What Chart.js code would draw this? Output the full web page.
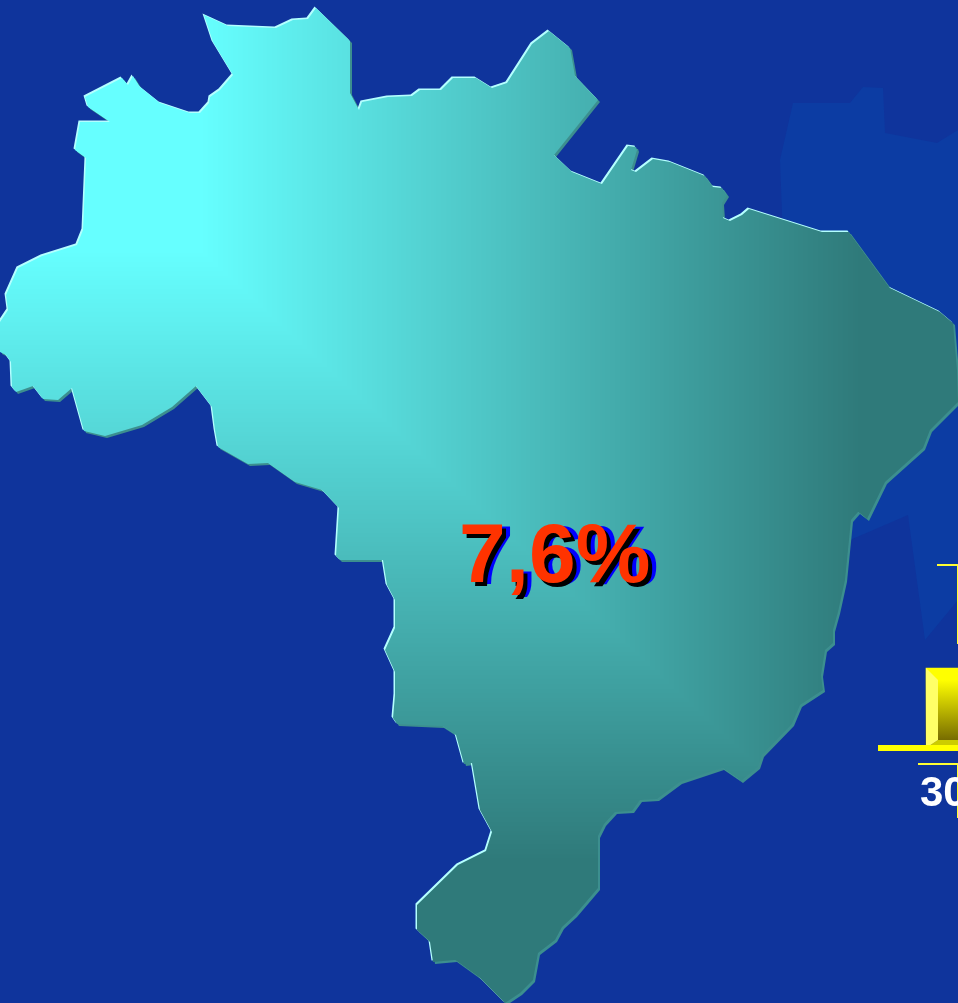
<!DOCTYPE html>
<html><head><meta charset="utf-8">
<style>html,body{margin:0;padding:0;background:#0F349C;overflow:hidden}canvas{display:block}</style>
<script src="https://cdn.jsdelivr.net/npm/chart.js@4"></script>
</head><body><canvas id="c" width="958" height="1003"></canvas>
<script>
const mapX=[204,228,276,293,308,316,350,350,359,362,388,412,420,441,453,476,492,507,532,549,570,575,598,554,572,602,628,636,637,631,636,653,670,705,713,722,727,722,723,730,742,749,822,849,890,940,953,957,958,930,923,885,867,858,851,845,838,833,833,825,821,823,800,792,762,758,741,722,680,657,640,632,615,604,598,598,575,562,555,538,533,520,505,480,455,433,430,417,417,458,486,492,480,472,464,456,442,397,393,395,395,385,395,395,387,383,340,336,339,322,295,268,248,218,215,212,196,172,142,105,84,72,58,43,33,16,12,11,6,0,0,8,6,18,42,77,83,86,75,80,110,88,85,122,128,133,140,160,190,200,209,210,220,233,213];
const mapY=[15,26,28,20,19,8,41,93,110,102,97,96,90,90,78,78,88,83,44,31,48,76,100,155,172,184,146,147,150,170,172,159,162,176,187,188,195,203,218,221,215,209,232,232,288,312,323,370,402,430,448,482,519,512,520,580,612,630,643,650,675,690,705,724,755,767,781,768,782,799,800,811,812,824,836,888,915,927,940,953,980,993,1003,978,960,962,942,930,905,865,851,832,810,763,764,735,726,724,718,695,672,650,628,600,585,560,560,556,508,490,482,463,464,447,430,407,386,407,425,436,431,388,400,399,386,392,387,362,355,352,322,310,295,268,256,245,230,158,150,122,122,107,97,78,85,76,87,103,113,113,103,97,90,75,42];
const ghostX=[793,850,863,883,885,937,958,958,925,908,850,783,780];
const ghostY=[103,103,87,88,133,143,130,600,640,515,540,240,160];
const boxX=[[937,958,958,937,937],[918,958,958,918,918]];
const boxY=[[565,565,644,644,565],[764,764,818,818,764]];
const axisX=[878,958], axisY=[748,748];
const barX=950, barY=[668,748];
const bevelLeftX=[926,938,938,926], bevelLeftY=[668,680,740,748];
const bevelTopX=[926,958,958,938], bevelTopY=[668,668,680,680];
const bevelBotX=[926,938,958,958], bevelBotY=[748,740,740,748];
const mainLabel='7,6%', mainPos=[459,582];
const tickLabel='30', tickPos=[920,806];

const toXY=(xs,ys)=>xs.map((x,i)=>({x,y:ys[i]}));
function shape(xs,ys,fill,extra){return Object.assign({type:'line',data:toXY(xs,ys),polyFill:fill,borderWidth:0,pointRadius:0,tension:0,fill:false,order:5,parsing:false},extra||{});}

const W=958,H=1003;
function mapPattern(ctx){
  const o=document.createElement('canvas');o.width=W;o.height=H;
  const c=o.getContext('2d'),im=c.createImageData(W,H),d=im.data;
  const a=[102,255,255],b=[47,122,122];
  for(let y=0;y<H;y++)for(let x=0;x<W;x++){
    let t=Math.max((x-200)/660,(y-250)/610);t=Math.min(1,Math.max(0,t));
    const k=(y*W+x)*4;
    d[k]=a[0]+(b[0]-a[0])*t;d[k+1]=a[1]+(b[1]-a[1])*t;d[k+2]=a[2]+(b[2]-a[2])*t;d[k+3]=255;
  }
  c.putImageData(im,0,0);
  return ctx.createPattern(o,'no-repeat');
}
const ctx=document.getElementById('c').getContext('2d');
const barGrad=ctx.createLinearGradient(0,680,0,740);
barGrad.addColorStop(0,'#FFFF00');barGrad.addColorStop(1,'#776C00');

function trace(c,pts){c.beginPath();pts.forEach((p,i)=>i?c.lineTo(p.x,p.y):c.moveTo(p.x,p.y));c.closePath();}
const polyPlugin={id:'poly',
  beforeDatasetDraw(chart,args){
    const ds=chart.data.datasets[args.index];
    if(!ds.polyFill)return;
    const pts=args.meta.data,c=chart.ctx;
    c.save();
    if(ds.bevel){
      c.fillStyle=ds.bevel.dark;c.save();c.translate(2,2);trace(c,pts);c.fill();c.restore();
      c.fillStyle=ds.bevel.light;c.save();c.translate(-1.5,-1.5);trace(c,pts);c.fill();c.restore();
    }
    c.fillStyle=ds.polyFill;trace(c,pts);c.fill();
    c.restore();
  },
  afterDraw(chart){
    const c=chart.ctx,sx=chart.scales.x,sy=chart.scales.y;
    c.save();c.textBaseline='alphabetic';c.textAlign='left';
    c.font='bold 84px "Liberation Sans"';
    const x=sx.getPixelForValue(mainPos[0]),y=sy.getPixelForValue(mainPos[1]);
    c.fillStyle='#0000FF';c.fillText(mainLabel,x+8,y+2);
    c.fillStyle='#000000';c.fillText(mainLabel,x+4,y+4);
    c.fillStyle='#FF3300';c.fillText(mainLabel,x,y);
    c.font='bold 42px "Liberation Sans"';c.fillStyle='#FFFFFF';
    c.fillText(tickLabel,sx.getPixelForValue(tickPos[0]),sy.getPixelForValue(tickPos[1]));
    c.restore();
  }
};
new Chart(ctx,{
  data:{datasets:[
    shape(ghostX,ghostY,'#0C3CA3',{order:20}),
    shape(mapX,mapY,mapPattern(ctx),{order:10,bevel:{dark:'#3C8F8F',light:'#B4FFFF'}}),
    {type:'line',data:toXY(boxX[0],boxY[0]),borderColor:'#FFFF33',borderWidth:2,pointRadius:0,tension:0,fill:false,order:4,parsing:false},
    {type:'line',data:toXY(boxX[1],boxY[1]),borderColor:'#FFFF33',borderWidth:2,pointRadius:0,tension:0,fill:false,order:4,parsing:false},
    {type:'bar',data:[{x:barX,y:barY}],backgroundColor:barGrad,barThickness:48,order:3,borderWidth:0},
    shape(bevelLeftX,bevelLeftY,'#FFFF66',{order:2}),
    shape(bevelTopX,bevelTopY,'#FFFF00',{order:2}),
    shape(bevelBotX,bevelBotY,'#CCCC00',{order:2}),
    {type:'line',data:toXY(axisX,axisY),borderColor:'#FFFF00',borderWidth:6,pointRadius:0,fill:false,order:1,parsing:false}
  ]},
  options:{
    responsive:false,animation:false,
    layout:{padding:0},
    plugins:{legend:{display:false},tooltip:{enabled:false},title:{display:false}},
    scales:{
      x:{type:'linear',min:0,max:W,display:false,offset:false},
      y:{type:'linear',min:0,max:H,reverse:true,display:false}
    }
  },
  plugins:[polyPlugin]
});
</script></body></html>
